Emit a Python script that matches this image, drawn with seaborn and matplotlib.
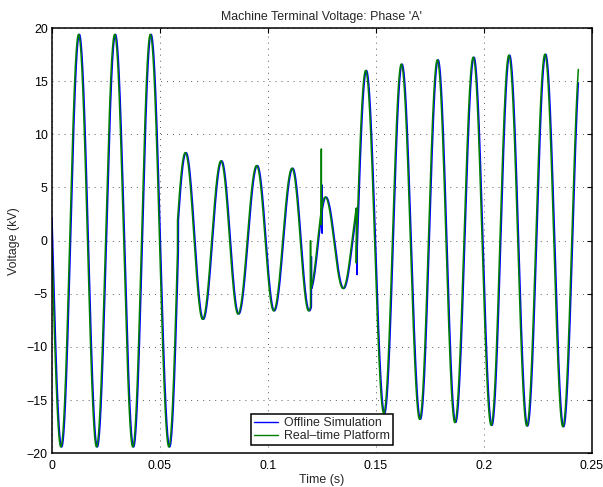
import numpy as np
import pandas as pd
import matplotlib
matplotlib.use("Agg")
import matplotlib.pyplot as plt
import seaborn as sns

# ---------------------------------------------------------------------------
# Phase-A terminal voltage (kV): successive peaks / troughs of the offline
# simulation trace, one list per operating interval (times in seconds).
# ---------------------------------------------------------------------------
prefault_t = [-0.0039, 0.0045, 0.0127, 0.0210, 0.0294, 0.0378, 0.0459, 0.0545, 0.0628]
prefault_v = [19.4, -19.4, 19.4, -19.4, 19.4, -19.4, 19.4, -19.4, 19.4]

fault_t = [0.0538, 0.0621, 0.0701, 0.0786, 0.0865, 0.0951, 0.1030, 0.1115, 0.1192, 0.1275]
fault_v = [-8.0, 8.28, -7.4, 7.5, -6.9, 7.06, -6.6, 6.81, -6.6, 6.6]

switching_t = [0.1197, 0.1269, 0.1351, 0.1434]
switching_v = [-4.6, 4.1, -4.5, 4.4]

recovery_t = [0.1373, 0.1456, 0.1540, 0.1621, 0.1706, 0.1788, 0.1869, 0.1954,
              0.2037, 0.2119, 0.2202, 0.2286, 0.2369, 0.2452]
recovery_v = [-16.0, 16.0, -16.24, 16.6, -16.8, 17.0, -17.1, 17.25,
              -17.37, 17.44, -17.43, 17.53, -17.5, 17.6]

# Event instants (fault inception, breaker / switching transients)
event_t = [0.0585, 0.1201, 0.1251, 0.1413]
# Interval active after each event
event_interval = ["fault", "switching", "switching", "recovery"]

# Switching spikes seen at each event (kV); NaN = no spike
offline_spike_hi = [np.nan, -1.5, 5.2, 2.6]
offline_spike_lo = [np.nan, -5.6, 0.7, -3.2]
platform_spike_hi = [np.nan, 0.0, 8.6, 2.6]
platform_spike_lo = [np.nan, -4.3, 1.5, -2.1]

# The real-time platform trace leads the offline one slightly
platform_lead = 0.0004
t_end = 0.2437

series_names = ["Offline Simulation", "Real\u2013time Platform"]
series_colors = ["#0000ff", "#008000"]

intervals = {
    "prefault": (prefault_t, prefault_v),
    "fault": (fault_t, fault_v),
    "switching": (switching_t, switching_v),
    "recovery": (recovery_t, recovery_v),
}


def arc_curve(ext_t, ext_v, t):
    """Half-cosine arcs joining consecutive peaks/troughs."""
    ext_t = np.asarray(ext_t)
    ext_v = np.asarray(ext_v)
    i = np.clip(np.searchsorted(ext_t, t, side="right") - 1, 0, len(ext_t) - 2)
    t0, t1 = ext_t[i], ext_t[i + 1]
    v0, v1 = ext_v[i], ext_v[i + 1]
    return (v0 + v1) / 2 + (v0 - v1) / 2 * np.cos(np.pi * (t - t0) / (t1 - t0))


def build_trace(lead, spike_hi, spike_lo, step=2e-5):
    names = ["prefault"] + event_interval
    edges = [0.0] + [e - lead for e in event_t] + [t_end]
    ts, vs = [], []
    for k, name in enumerate(names):
        a, b = edges[k], edges[k + 1]
        n = max(int((b - a) / step), 2)
        tt = np.linspace(a, b, n)
        vv = arc_curve(*intervals[name], tt + lead)
        if k > 0 and not np.isnan(spike_hi[k - 1]):
            ts += [a, a]
            vs += [spike_hi[k - 1], spike_lo[k - 1]]
        ts += list(tt)
        vs += list(vv)
    return np.array(ts), np.array(vs)


t_off, v_off = build_trace(0.0, offline_spike_hi, offline_spike_lo)
t_rt, v_rt = build_trace(platform_lead, platform_spike_hi, platform_spike_lo)

df = pd.concat([
    pd.DataFrame({"time": t_off, "voltage": v_off, "trace": series_names[0]}),
    pd.DataFrame({"time": t_rt, "voltage": v_rt, "trace": series_names[1]}),
], ignore_index=True)

# ---------------------------------------------------------------------------
sns.set_style("white")
plt.rcParams["font.family"] = ["Liberation Sans", "DejaVu Sans"]
plt.rcParams["axes.unicode_minus"] = True
fs = 8.9

fig = plt.figure(figsize=(6.03, 4.87), dpi=100)
ax = fig.add_axes([0.0862, 0.0692, 0.8955, 0.8733])

sns.lineplot(data=df, x="time", y="voltage", hue="trace",
             palette=dict(zip(series_names, series_colors)),
             sort=False, estimator=None, linewidth=1.1, ax=ax, legend=False)

ax.set_xlim(0, 0.25)
ax.set_ylim(-20, 20)
ax.set_xticks(np.arange(0, 0.2501, 0.05))
ax.set_xticklabels(["0", "0.05", "0.1", "0.15", "0.2", "0.25"])
ax.set_yticks(np.arange(-20, 21, 5))

ax.grid(True, color="0.35", linestyle=(0, (1, 5.2)), linewidth=0.7)
for sp in ax.spines.values():
    sp.set_visible(True)
    sp.set_color("black")
    sp.set_linewidth(1.1)
ax.tick_params(direction="in", length=3.6, width=0.8, colors="black",
               top=True, right=True, labelsize=fs)
ax.tick_params(axis="x", pad=4.5)
ax.tick_params(axis="y", pad=3)

ax.set_title("Machine Terminal Voltage: Phase 'A'", fontsize=fs, pad=6)
ax.set_xlabel("Time (s)", fontsize=fs, labelpad=1.5)
ax.set_ylabel("Voltage (kV)", fontsize=fs, labelpad=5)

handles = [plt.Line2D([], [], color=c, lw=1.0) for c in series_colors]
leg = ax.legend(handles, series_names, loc="lower center",
                bbox_to_anchor=(0.5, 0.0195), borderaxespad=0,
                fontsize=fs, frameon=True, fancybox=False, framealpha=1,
                edgecolor="black", handlelength=2.0, handletextpad=0.5,
                borderpad=0.22, labelspacing=0.1)
leg.get_frame().set_linewidth(1.1)

fig.savefig("out.png", dpi=100)
